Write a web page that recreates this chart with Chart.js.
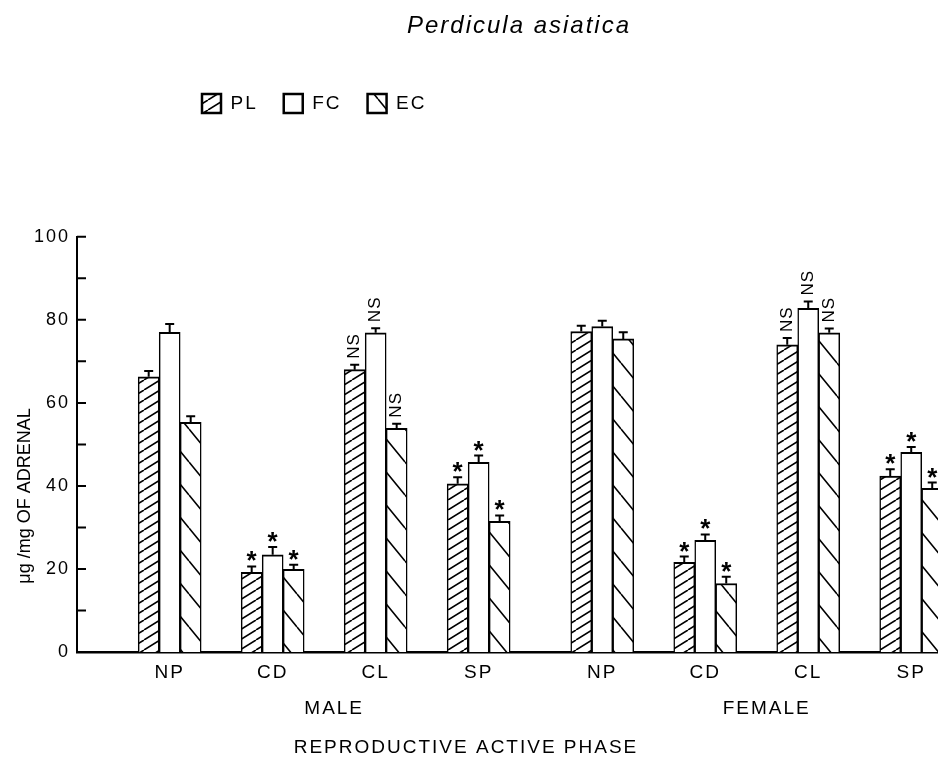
<!DOCTYPE html>
<html lang="en">

<head>
    <meta charset="UTF-8" />
    <script src="https://cdn.jsdelivr.net/npm/chart.js@4.4.0/dist/chart.umd.min.js"></script>
    <style>
        body { margin: 0; background: #fff; }
    </style>
</head>

<body>
    <canvas id="chart" width="938" height="760"></canvas>
    <script>
        // values (ug/mg of adrenal)
        const phases = ['NP', 'CD', 'CL', 'SP', 'NP', 'CD', 'CL', 'SP'];
        const sexes = ['MALE', 'FEMALE'];
        const plValues = [66.3, 19.2, 68.0, 40.5, 77.2, 21.6, 74.0, 42.4];
        const fcValues = [77.0, 23.4, 76.9, 45.7, 78.4, 26.9, 82.8, 48.1];
        const ecValues = [55.3, 19.9, 53.9, 31.5, 75.4, 16.5, 76.9, 39.4];
        const plErrors = [1.4, 1.4, 1.2, 1.6, 1.4, 1.4, 1.6, 1.6];
        const fcErrors = [2.0, 1.9, 1.1, 1.6, 1.4, 1.4, 1.6, 1.3];
        const ecErrors = [1.5, 1.1, 1.1, 1.4, 1.6, 1.6, 1.0, 1.4];
        const marks = ['', '*', 'NS', '*', '', '*', 'NS', '*'];
        const yTicks = [0, 10, 20, 30, 40, 50, 60, 70, 80, 90, 100];

        // a little extra room between the male and female groups
        const sexGap = 0.2;
        const xPos = phases.map((p, i) => i + 1 + (i >= 4 ? sexGap : 0));

        const canvas = document.getElementById('chart');
        const ctx = canvas.getContext('2d');

        function hatch(w, h, up) {
            const c = document.createElement('canvas');
            c.width = w;
            c.height = h;
            const g = c.getContext('2d');
            g.fillStyle = '#fff';
            g.fillRect(0, 0, w, h);
            g.strokeStyle = '#000';
            g.lineWidth = 1.6;
            g.beginPath();
            for (let k = -1; k <= 1; k++) {
                if (up) {
                    g.moveTo(k * w, h);
                    g.lineTo(k * w + w, 0);
                } else {
                    g.moveTo(k * w, 0);
                    g.lineTo(k * w + w, h);
                }
            }
            g.stroke();
            return ctx.createPattern(c, 'repeat');
        }

        Chart.defaults.font.family = '"Liberation Sans", Arial, sans-serif';
        Chart.defaults.color = '#000';

        const spacing = '2px';

        const figureBits = {
            id: 'figureBits',
            beforeLayout(chart) {
                chart.ctx.letterSpacing = spacing;
            },
            beforeDraw(chart) {
                chart.ctx.letterSpacing = spacing;
            },
            afterLayout(chart) {
                // legend sits left of centre, title right of centre in the original
                const lg = chart.legend;
                lg.left = 176;
                lg.right = chart.width;
                lg.top = 68;
                lg.bottom = lg.top + lg.height;
                const t = chart.titleBlock;
                t.left += 50;
                t.right += 50;
            },
            afterDatasetsDraw(chart) {
                const { ctx, scales: { x, y } } = chart;
                ctx.save();
                ctx.strokeStyle = '#000';
                ctx.fillStyle = '#000';
                ctx.lineWidth = 2;
                chart.data.datasets.forEach((ds, di) => {
                    const meta = chart.getDatasetMeta(di);
                    meta.data.forEach((bar, i) => {
                        const v = ds.data[i].y;
                        const top = y.getPixelForValue(v);
                        const cap = y.getPixelForValue(v + ds.errors[i]);
                        ctx.beginPath();
                        ctx.moveTo(bar.x, top);
                        ctx.lineTo(bar.x, cap);
                        ctx.moveTo(bar.x - 4.5, cap);
                        ctx.lineTo(bar.x + 4.5, cap);
                        ctx.stroke();

                        if (marks[i] === '*') {
                            ctx.font = 'bold 26px "Liberation Sans"';
                            ctx.letterSpacing = '0px';
                            ctx.textAlign = 'center';
                            ctx.textBaseline = 'alphabetic';
                            ctx.fillText('*', bar.x, cap + 3);
                        } else if (marks[i] === 'NS') {
                            ctx.save();
                            ctx.font = '17px "Liberation Sans"';
                            ctx.letterSpacing = '1px';
                            ctx.translate(bar.x, cap - 6);
                            ctx.rotate(-Math.PI / 2);
                            ctx.textAlign = 'left';
                            ctx.textBaseline = 'middle';
                            ctx.fillText('NS', 0, 0);
                            ctx.restore();
                        }
                    });
                });
                // tick marks point into the plot
                ctx.beginPath();
                y.ticks.forEach(t => {
                    const py = y.getPixelForValue(t.value);
                    ctx.moveTo(x.left, py);
                    ctx.lineTo(x.left + 9, py);
                });
                ctx.stroke();
                ctx.restore();
            },
            afterDraw(chart) {
                const { ctx, scales: { x, y }, chartArea } = chart;
                ctx.save();
                ctx.fillStyle = '#000';
                ctx.letterSpacing = spacing;
                ctx.font = '19px "Liberation Sans"';
                ctx.textAlign = 'center';
                ctx.textBaseline = 'middle';
                const maleMid = x.getPixelForValue((xPos[0] + xPos[3]) / 2) + 10;
                const femaleMid = x.getPixelForValue((xPos[4] + xPos[7]) / 2) + 10;
                ctx.fillText(sexes[0], maleMid, chartArea.bottom + 57);
                ctx.fillText(sexes[1], femaleMid, chartArea.bottom + 57);
                ctx.fillText('REPRODUCTIVE ACTIVE PHASE', 466, chartArea.bottom + 96);

                ctx.font = '18px "Liberation Sans"';
                ctx.letterSpacing = '0px';
                ctx.translate(25, 496);
                ctx.rotate(-Math.PI / 2);
                ctx.fillText('\u03bcg /mg OF ADRENAL', 0, 0);
                ctx.restore();
            }
        };

        const myChart = new Chart(ctx, {
            type: 'bar',
            data: {
                datasets: [{
                    label: 'PL',
                    data: plValues.map((v, i) => ({ x: xPos[i], y: v })),
                    errors: plErrors,
                    backgroundColor: hatch(16, 10, true),
                    borderColor: '#000',
                    borderWidth: { top: 2, left: 1.5, right: 1.5, bottom: 0 },
                    borderSkipped: false
                }, {
                    label: 'FC',
                    data: fcValues.map((v, i) => ({ x: xPos[i], y: v })),
                    errors: fcErrors,
                    backgroundColor: '#fff',
                    borderColor: '#000',
                    borderWidth: { top: 2, left: 1.5, right: 1.5, bottom: 0 },
                    borderSkipped: false
                }, {
                    label: 'EC',
                    data: ecValues.map((v, i) => ({ x: xPos[i], y: v })),
                    errors: ecErrors,
                    backgroundColor: hatch(27, 33, false),
                    borderColor: '#000',
                    borderWidth: { top: 2, left: 1.5, right: 1.5, bottom: 0 },
                    borderSkipped: false
                }]
            },
            options: {
                responsive: false,
                animation: false,
                barThickness: 21,
                layout: { padding: 0 },
                plugins: {
                    title: {
                        display: true,
                        text: 'Perdicula asiatica',
                        font: { size: 24, style: 'italic', weight: 'normal' },
                        padding: { top: 12, bottom: 141 }
                    },
                    legend: {
                        position: 'top',
                        align: 'start',
                        labels: {
                            boxWidth: 19,
                            boxHeight: 19,
                            padding: 26,
                            font: { size: 19 },
                            generateLabels(chart) {
                                return Chart.defaults.plugins.legend.labels.generateLabels(chart)
                                    .map(l => ({ ...l, lineWidth: 2.5, strokeStyle: '#000' }));
                            }
                        }
                    },
                    tooltip: { enabled: false }
                },
                scales: {
                    x: {
                        type: 'linear',
                        offset: false,
                        min: 0.1,
                        max: 8.46,
                        afterBuildTicks: scale => {
                            scale.ticks = xPos.map(v => ({ value: v }));
                        },
                        afterFit: scale => {
                            scale.height = 108;
                        },
                        ticks: {
                            autoSkip: false,
                            maxRotation: 0,
                            padding: 9,
                            font: { size: 19 },
                            callback: (v, i) => phases[i]
                        },
                        grid: { display: false, drawTicks: false, offset: false },
                        border: { color: '#000', width: 2.5 }
                    },
                    y: {
                        min: 0,
                        max: 100,
                        afterBuildTicks: scale => {
                            scale.ticks = yTicks.map(v => ({ value: v }));
                        },
                        afterFit: scale => {
                            scale.width = 77;
                        },
                        ticks: {
                            padding: 7,
                            font: { size: 18 },
                            callback: v => (v % 20 === 0 ? v : '')
                        },
                        grid: { display: false, drawTicks: false },
                        border: { color: '#000', width: 2 }
                    }
                }
            },
            plugins: [figureBits]
        });
    </script>
</body>

</html>
